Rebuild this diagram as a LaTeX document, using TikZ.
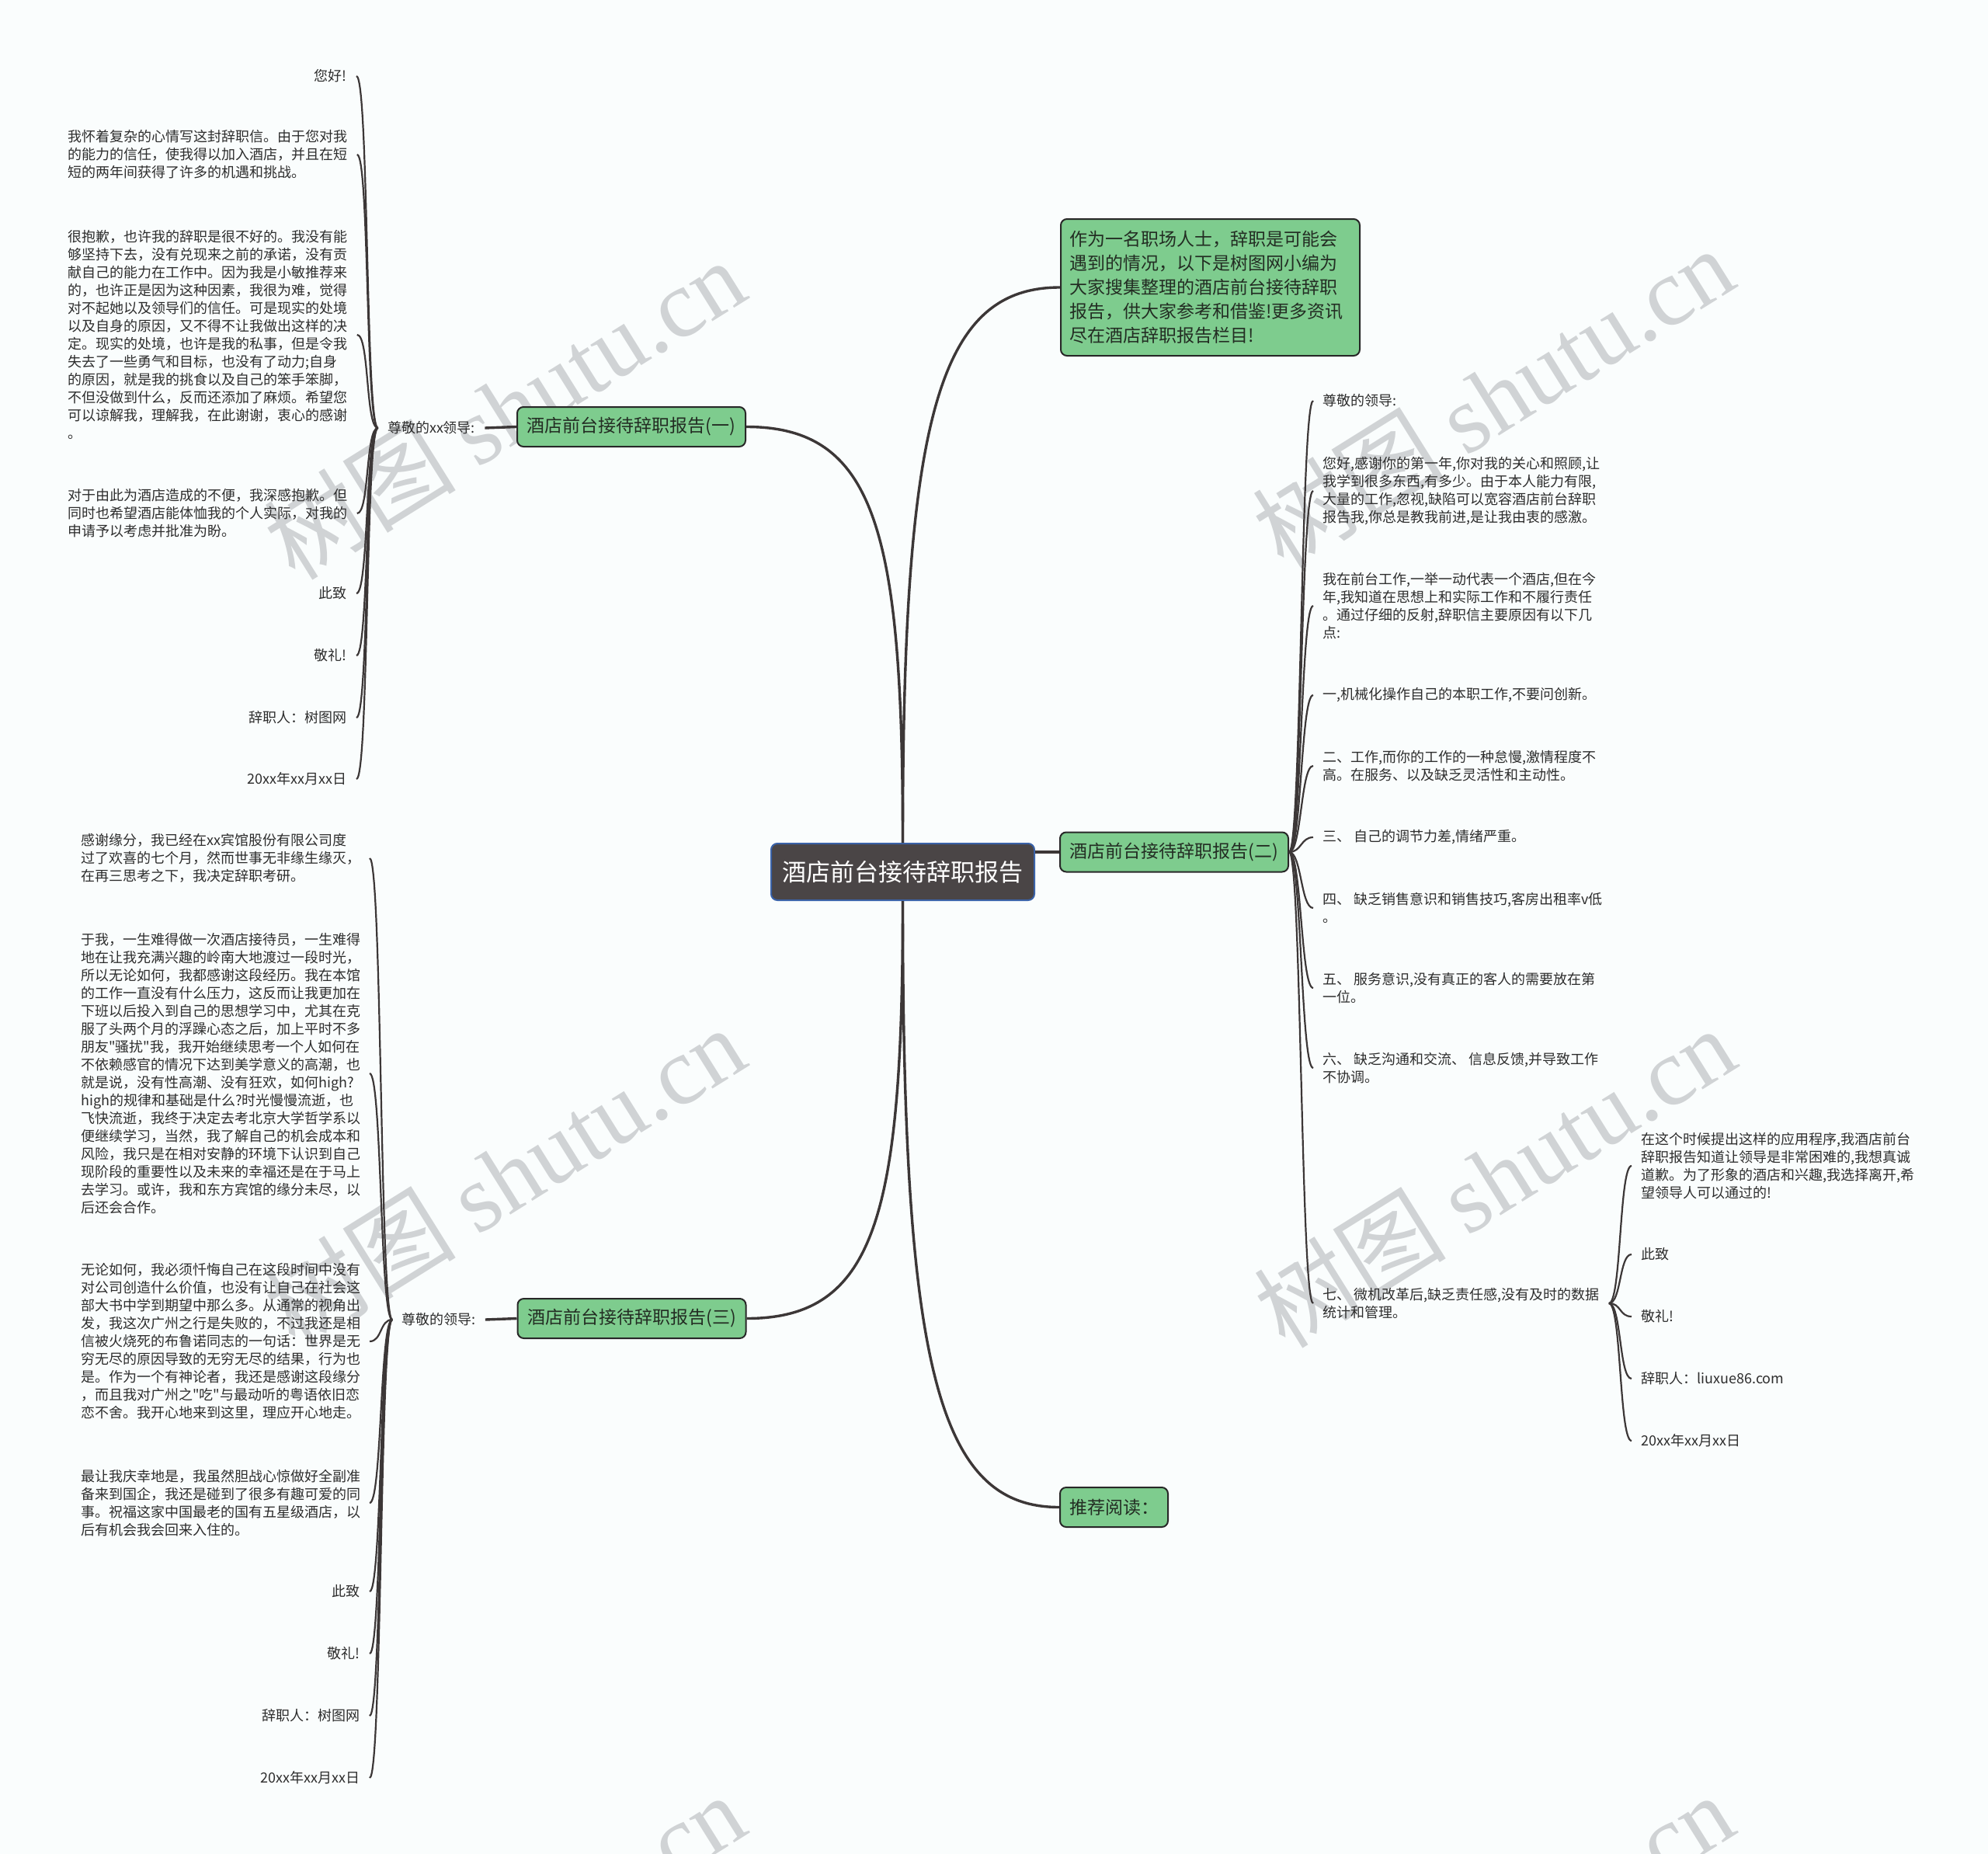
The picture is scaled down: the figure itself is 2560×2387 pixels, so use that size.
\documentclass[tikz,border=0pt]{standalone}
\usepackage{fontspec}
\setmainfont{Noto Sans CJK SC}
\newfontfamily\plaincjk{Noto Sans CJK SC}
\newfontfamily\wmserif{Liberation Serif}
\newcommand{\dq}{{\plaincjk"}}
\definecolor{bgc}{RGB}{250,253,253}
\definecolor{boxgreen}{RGB}{126,204,142}
\definecolor{boxborder}{RGB}{40,40,40}
\definecolor{boxtext}{RGB}{35,45,35}
\definecolor{rootfill}{RGB}{74,69,70}
\definecolor{rootborder}{RGB}{58,98,168}
\definecolor{linec}{RGB}{60,55,55}
\definecolor{leaftext}{RGB}{45,45,45}
\definecolor{wmc}{RGB}{208,211,213}
\newcommand{\leaffont}{\fontsize{9}{11.5}\selectfont}
\newcommand{\branchfont}{\fontsize{11.5}{15.5}\selectfont}
\newcommand{\rootfont}{\fontsize{15.5}{18}\selectfont}
\newcommand{\wmfont}{\fontsize{62}{62}\selectfont}
\tikzset{
  leaf/.style={font=\leaffont, text=leaftext, inner xsep=6pt, inner ysep=1.5pt, align=left},
  branchbox/.style={draw=boxborder, line width=1pt, fill=boxgreen, rounded corners=4pt,
    font=\branchfont, text=boxtext, minimum width=147pt, minimum height=25.5pt, inner sep=0pt},
  rootbox/.style={draw=rootborder, line width=1pt, fill=rootfill, rounded corners=4pt,
    font=\rootfont, text=white, minimum width=169.5pt, minimum height=36.5pt, inner sep=0pt},
  mainline/.style={draw=linec, line width=1.7pt},
  leafline/.style={draw=linec, line width=1.1pt},
  wm/.style={text=wmc, rotate=32, font=\wmfont, inner sep=0pt}
}
\begin{document}
\begin{tikzpicture}[x=0.5pt, y=-0.5pt]
\useasboundingbox (0,0) rectangle (2560,2387);
\fill[bgc] (0,0) rectangle (2560,2387);
% watermark
\begin{scope}
\clip (0,0) rectangle (2560,2387);
\node[wm] (w1) at (649,526) {树图\ {\wmserif shutu.cn}};
\node[wm] (w2) at (1922,511) {树图\ {\wmserif shutu.cn}};
\node[wm] (w3) at (649,1514) {树图\ {\wmserif shutu.cn}};
\node[wm] (w4) at (1924,1515) {树图\ {\wmserif shutu.cn}};
\node[wm] (w5) at (649,2502) {树图\ {\wmserif shutu.cn}};
\node[wm] (w6) at (1922,2502) {树图\ {\wmserif shutu.cn}};
\end{scope}

% main nodes
\node[rootbox] (root) at (1162.5,1122.5) {酒店前台接待辞职报告};
\node[branchbox] (b1) at (813,549.5) {酒店前台接待辞职报告(一)};
\node[branchbox] (b2) at (1512,1097) {酒店前台接待辞职报告(二)};
\node[branchbox] (b3) at (813.5,1697.5) {酒店前台接待辞职报告(三)};
\node[branchbox, anchor=north west, minimum width=192.5pt, minimum height=88pt,
  inner xsep=5.5pt, align=left, text width=181.5pt] (intro) at (1365,281)
  {作为一名职场人士，辞职是可能会\\遇到的情况，以下是树图网小编为\\大家搜集整理的酒店前台接待辞职\\报告，供大家参考和借鉴!更多资讯\\尽在酒店辞职报告栏目!};
\node[branchbox, minimum width=69.5pt] (rec) at (1434.5,1940.5) {推荐阅读：};

% branch (一)
\node[leaf] (s1) at (555.5,551) {尊敬的xx领导:};
\node[leaf, anchor=east] (l1) at (459,98) {您好!};
\node[leaf, anchor=west] (l2) at (75,199) {我怀着复杂的心情写这封辞职信。由于您对我\\的能力的信任，使我得以加入酒店，并且在短\\短的两年间获得了许多的机遇和挑战。};
\node[leaf, anchor=west] (l3) at (75,431) {很抱歉，也许我的辞职是很不好的。我没有能\\够坚持下去，没有兑现来之前的承诺，没有贡\\献自己的能力在工作中。因为我是小敏推荐来\\的，也许正是因为这种因素，我很为难，觉得\\对不起她以及领导们的信任。可是现实的处境\\以及自身的原因，又不得不让我做出这样的决\\定。现实的处境，也许是我的私事，但是令我\\失去了一些勇气和目标，也没有了动力;自身\\的原因，就是我的挑食以及自己的笨手笨脚，\\不但没做到什么，反而还添加了麻烦。希望您\\可以谅解我，理解我，在此谢谢，衷心的感谢\\。};
\node[leaf, anchor=west] (l4) at (75,661) {对于由此为酒店造成的不便，我深感抱歉。但\\同时也希望酒店能体恤我的个人实际，对我的\\申请予以考虑并批准为盼。};
\node[leaf, anchor=east] (l5) at (459,764) {此致};
\node[leaf, anchor=east] (l6) at (459,844) {敬礼!};
\node[leaf, anchor=east] (l7) at (459,924) {辞职人：树图网};
\node[leaf, anchor=east] (l8) at (459,1003) {20xx年xx月xx日};

% branch (三)
\node[leaf] (s3) at (565,1699) {尊敬的领导:};
\node[leaf, anchor=west] (m1) at (92,1105) {感谢缘分，我已经在xx宾馆股份有限公司度\\过了欢喜的七个月，然而世事无非缘生缘灭，\\在再三思考之下，我决定辞职考研。};
\node[leaf, anchor=west] (m2) at (92,1382) {于我，一生难得做一次酒店接待员，一生难得\\地在让我充满兴趣的岭南大地渡过一段时光，\\所以无论如何，我都感谢这段经历。我在本馆\\的工作一直没有什么压力，这反而让我更加在\\下班以后投入到自己的思想学习中，尤其在克\\服了头两个月的浮躁心态之后，加上平时不多\\朋友\dq 骚扰\dq 我，我开始继续思考一个人如何在\\不依赖感官的情况下达到美学意义的高潮，也\\就是说，没有性高潮、没有狂欢，如何high?\\high的规律和基础是什么?时光慢慢流逝，也\\飞快流逝，我终于决定去考北京大学哲学系以\\便继续学习，当然，我了解自己的机会成本和\\风险，我只是在相对安静的环境下认识到自己\\现阶段的重要性以及未来的幸福还是在于马上\\去学习。或许，我和东方宾馆的缘分未尽，以\\后还会合作。};
\node[leaf, anchor=west] (m3) at (92,1727) {无论如何，我必须忏悔自己在这段时间中没有\\对公司创造什么价值，也没有让自己在社会这\\部大书中学到期望中那么多。从通常的视角出\\发，我这次广州之行是失败的，不过我还是相\\信被火烧死的布鲁诺同志的一句话：世界是无\\穷无尽的原因导致的无穷无尽的结果，行为也\\是。作为一个有神论者，我还是感谢这段缘分\\，而且我对广州之\dq 吃\dq 与最动听的粤语依旧恋\\恋不舍。我开心地来到这里，理应开心地走。};
\node[leaf, anchor=west] (m4) at (92,1935) {最让我庆幸地是，我虽然胆战心惊做好全副准\\备来到国企，我还是碰到了很多有趣可爱的同\\事。祝福这家中国最老的国有五星级酒店，以\\后有机会我会回来入住的。};
\node[leaf, anchor=east] (m5) at (476,2049) {此致};
\node[leaf, anchor=east] (m6) at (476,2129) {敬礼!};
\node[leaf, anchor=east] (m7) at (476,2209) {辞职人：树图网};
\node[leaf, anchor=east] (m8) at (476,2289) {20xx年xx月xx日};

% branch (二)
\node[leaf, anchor=west] (r1) at (1691,516) {尊敬的领导:};
\node[leaf, anchor=west] (r2) at (1691,632) {您好,感谢你的第一年,你对我的关心和照顾,让\\我学到很多东西,有多少。由于本人能力有限,\\大量的工作,忽视,缺陷可以宽容酒店前台辞职\\报告我,你总是教我前进,是让我由衷的感激。};
\node[leaf, anchor=west] (r3) at (1691,780) {我在前台工作,一举一动代表一个酒店,但在今\\年,我知道在思想上和实际工作和不履行责任\\。通过仔细的反射,辞职信主要原因有以下几\\点:};
\node[leaf, anchor=west] (r4) at (1691,895) {一,机械化操作自己的本职工作,不要问创新。};
\node[leaf, anchor=west] (r5) at (1691,986) {二、工作,而你的工作的一种怠慢,激情程度不\\高。在服务、以及缺乏灵活性和主动性。};
\node[leaf, anchor=west] (r6) at (1691,1078) {三、 自己的调节力差,情绪严重。};
\node[leaf, anchor=west] (r7) at (1691,1169) {四、 缺乏销售意识和销售技巧,客房出租率v低\\。};
\node[leaf, anchor=west] (r8) at (1691,1272) {五、 服务意识,没有真正的客人的需要放在第\\一位。};
\node[leaf, anchor=west] (r9) at (1691,1375) {六、 缺乏沟通和交流、 信息反馈,并导致工作\\不协调。};
\node[leaf, anchor=west] (r10) at (1691,1678) {七、 微机改革后,缺乏责任感,没有及时的数据\\统计和管理。};

% children of 七
\node[leaf, anchor=west] (t1) at (2101,1501) {在这个时候提出这样的应用程序,我酒店前台\\辞职报告知道让领导是非常困难的,我想真诚\\道歉。为了形象的酒店和兴趣,我选择离开,希\\望领导人可以通过的!};
\node[leaf, anchor=west] (t2) at (2101,1615) {此致};
\node[leaf, anchor=west] (t3) at (2101,1695) {敬礼!};
\node[leaf, anchor=west] (t4) at (2101,1775) {辞职人：liuxue86.com};
\node[leaf, anchor=west] (t5) at (2101,1855) {20xx年xx月xx日};

% main connectors
\draw[mainline] (b1.east) .. controls +(167,0) and +(0,-400) .. (root.north);
\draw[mainline] (intro.west) .. controls +(-157,0) and +(0,-547) .. (root.north);
\draw[mainline] (b3.east) .. controls +(167,0) and +(0,403) .. (root.south);
\draw[mainline] (rec.west) .. controls +(-157,0) and +(0,598) .. (root.south);
\draw[mainline] (root.east |- b2.west) -- (b2.west);
\draw[mainline] (b1.west) -- (s1.east);
\draw[mainline] (b3.west) -- (s3.east);

% leaf connectors (一)
\foreach \n in {l1,l2,l3,l4,l5,l6,l7,l8}
  \draw[leafline] (s1.west) .. controls +(-16,0) and +(16,0) .. (\n.east);
% leaf connectors (三)
\draw[leafline] (s3.west) .. controls +(-16,0) and +(16,0) .. (m1.east -| m5.east);
\draw[leafline] (s3.west) .. controls +(-16,0) and +(16,0) .. (m2.east -| m5.east);
\draw[leafline] (s3.west) .. controls +(-16,0) and +(16,0) .. (m3.east -| m5.east);
\draw[leafline] (s3.west) .. controls +(-16,0) and +(16,0) .. (m4.east -| m5.east);
\foreach \n in {m5,m6,m7,m8}
  \draw[leafline] (s3.west) .. controls +(-16,0) and +(16,0) .. (\n.east);
% leaf connectors (二)
\foreach \n in {r1,r2,r3,r4,r5,r6,r7,r8,r9,r10}
  \draw[leafline] (b2.east) .. controls +(16,0) and +(-16,0) .. (\n.west);
% leaf connectors 七
\foreach \n in {t1,t2,t3,t4,t5}
  \draw[leafline] (r10.east) .. controls +(16,0) and +(-16,0) .. (\n.west);
\end{tikzpicture}
\end{document}
